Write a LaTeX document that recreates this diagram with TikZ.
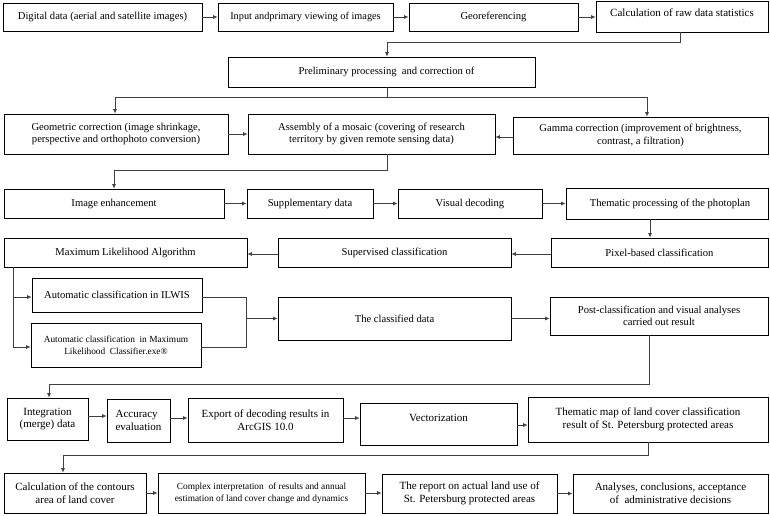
\documentclass[tikz,border=0pt]{standalone}
\usepackage{fontspec}
\setmainfont{Liberation Serif}
\usetikzlibrary{arrows.meta,shadows}
\begin{document}
\begin{tikzpicture}[x=1pt,y=-1pt,
  box/.style={draw=black,line width=0.7pt,fill=white,inner sep=1pt,align=center,
    font=\fontsize{10.6}{12.5}\selectfont,
    drop shadow={shadow xshift=0.9pt,shadow yshift=-0.9pt,fill=black!40,opacity=1}},
  big/.style={font=\fontsize{11}{12.6}\selectfont},
  smallf/.style={font=\fontsize{9.35}{12}\selectfont},
  inpf/.style={font=\fontsize{10.3}{12}\selectfont},
  calcf/.style={font=\fontsize{11}{12}\selectfont},
  arr/.style={draw=black!75,line width=0.8pt,-{Latex[length=4.5pt,width=4pt]}},
  ln/.style={draw=black!75,line width=0.8pt}]
\useasboundingbox[fill=white] (0,0) rectangle (770,516);
% row 1
\node[box,minimum width=199pt,minimum height=28pt] (dig) at (102.5,17) {Digital data (aerial and satellite images)};
\node[box,inpf,minimum width=175pt,minimum height=28pt] (inp) at (305.5,17) {Input andprimary viewing of images};
\node[box,minimum width=169pt,minimum height=28pt] (geo) at (493.5,17) {Georeferencing};
\node[box,calcf,minimum width=172pt,minimum height=31pt,text depth=8pt] (calc) at (682,16.5) {Calculation of raw data statistics};
% row 2
\node[box,minimum width=307pt,minimum height=30pt] (pre) at (381.5,72) {\hspace*{10pt}Preliminary processing \ and correction of};
% row 3
\node[box,minimum width=224pt,minimum height=40pt] (geom) at (116,134) {Geometric correction (image shrinkage,\\ perspective and orthophoto conversion)};
\node[box,minimum width=247pt,minimum height=40pt] (asm) at (371.5,134) {Assembly of a mosaic (covering of research\\ territory by given remote sensing data)};
\node[box,minimum width=255pt,minimum height=37pt] (gam) at (640.5,135.5) {Gamma correction (improvement of brightness,\\ contrast, a filtration)};
% row 4
\node[box,minimum width=220pt,minimum height=29pt] (enh) at (114,203.5) {Image enhancement};
\node[box,minimum width=126pt,minimum height=29pt] (sup) at (310,203.5) {Supplementary data};
\node[box,minimum width=144pt,minimum height=29pt] (vis) at (470,203.5) {Visual decoding};
\node[box,minimum width=202pt,minimum height=31pt] (them) at (667,203.5) {\hspace*{6pt}Thematic processing of the photoplan};
% row 5
\node[box,minimum width=217pt,minimum height=29pt] (pix) at (659.5,252.5) {Pixel-based classification};
\node[box,minimum width=233pt,minimum height=29pt] (supc) at (394.5,252.5) {Supervised classification};
\node[box,minimum width=243pt,minimum height=29pt] (ml) at (125.5,252.5) {Maximum Likelihood Algorithm};
% row 6
\node[box,minimum width=170pt,minimum height=34pt] (ilw) at (117,295) {Automatic classification in ILWIS};
\node[box,smallf,minimum width=170pt,minimum height=44pt] (mlc) at (116,345) {Automatic classification \ in Maximum\\ Likelihood \ Classifier.exe\textregistered};
\node[box,minimum width=233pt,minimum height=43pt] (cls) at (394.5,318.5) {The classified data};
\node[box,minimum width=218pt,minimum height=38pt] (post) at (659,316) {Post-classification and visual analyses\\ carried out result};
% row 7
\node[box,big,minimum width=81pt,minimum height=42pt] (int) at (47.5,419) {Integration\\ (merge) data};
\node[box,big,minimum width=63pt,minimum height=43pt,align=left] (acc) at (138.5,420.5) {Accuracy\\ evaluation};
\node[box,big,minimum width=155pt,minimum height=44pt] (exp) at (265.5,420) {Export of decoding results in\\ ArcGIS 10.0};
\node[box,big,minimum width=157pt,minimum height=42pt,text depth=12pt] (vec) at (438.5,424) {Vectorization};
\node[box,big,minimum width=240pt,minimum height=45pt] (tmap) at (648,419.5) {Thematic map of land cover classification\\ result of St. Petersburg protected areas};
% row 8
\node[box,big,minimum width=142pt,minimum height=40pt] (cnt) at (75,493) {Calculation of the contours\\ area of land cover};
\node[box,smallf,minimum width=207pt,minimum height=40pt] (cpx) at (261.5,493) {Complex interpretation \ of results and annual\\ estimation of land cover change and dynamics};
\node[box,big,minimum width=175pt,minimum height=39pt] (rep) at (469.5,493.5) {The report on actual land use of\\ St. Petersburg protected areas};
\node[box,big,minimum width=195pt,minimum height=39pt] (ana) at (670.5,493.5) {Analyses, conclusions, acceptance\\ of \ administrative decisions};
% helper coordinates
\coordinate (s1) at (387,97);
\coordinate (c650) at (650,0);
\coordinate (mlx) at (13,0);
\coordinate (jx) at (246,0);
% connectors
\draw[arr] (dig.east) -- (inp.west);
\draw[arr] (inp.east) -- (geo.west);
\draw[arr] (geo.east) -- (geo.east -| calc.west);
\draw[arr] ([xshift=-2pt]calc.south) -- ++(0,10) -| ([xshift=5.5pt]pre.north);
\draw[ln] (pre.south -| s1) -- (s1);
\draw[arr] (s1) -| ([xshift=-1pt]geom.north);
\draw[arr] (s1) -| ([xshift=6.5pt]gam.north);
\draw[arr] (geom.east) -- (asm.west);
\draw[arr] ([yshift=-1.5pt]gam.west) -- ([yshift=-1.5pt]gam.west -| asm.east);
\draw[arr] ([xshift=15.5pt]asm.south) -- ++(0,16) -| (enh.north);
\draw[arr] (enh.east) -- (sup.west);
\draw[arr] (sup.east) -- (vis.west);
\draw[arr] (vis.east) -- (them.west);
\draw[arr] (them.south -| c650) -- (pix.north -| c650);
\draw[arr] ([yshift=-1.5pt]pix.west) -- ([yshift=-1.5pt]supc.east);
\draw[arr] ([yshift=-1.5pt]supc.west) -- ([yshift=-1.5pt]ml.east);
\draw[ln] (ml.south -| mlx) -- ([yshift=-2pt]mlc.west -| mlx);
\draw[arr] ([yshift=-2pt]ilw.west -| mlx) -- ([yshift=-2pt]ilw.west);
\draw[arr] ([yshift=-2pt]mlc.west -| mlx) -- ([yshift=-2pt]mlc.west);
\draw[ln] ([yshift=-2pt]ilw.east) -- ([yshift=-2pt]ilw.east -| jx) -- ([yshift=-2pt]mlc.east -| jx) -- ([yshift=-2pt]mlc.east);
\draw[arr] (cls.west -| jx) -- (cls.west);
\draw[arr] (cls.east) -- (cls.east -| post.west);
\draw[arr] ([xshift=-10pt]post.south) -- ++(0,49) -| ([xshift=1.5pt]int.north);
\draw[arr] ([yshift=3pt]int.east) -- ([yshift=3pt]int.east -| acc.west);
\draw[arr] ([yshift=2.5pt]acc.east) -- ([yshift=2.5pt]acc.east -| exp.west);
\draw[arr] ([yshift=2pt]exp.east) -- ([yshift=2pt]exp.east -| vec.west);
\draw[arr] ([yshift=-1pt]vec.east) -- ([yshift=-1pt]vec.east -| tmap.west);
\draw[arr] (tmap.south) -- ++(0,13) -| ([xshift=-12pt]cnt.north);
\draw[arr] (cnt.east) -- (cpx.west);
\draw[arr] (cpx.east) -- (cpx.east -| rep.west);
\draw[arr] (rep.east) -- (rep.east -| ana.west);
\end{tikzpicture}
\end{document}
